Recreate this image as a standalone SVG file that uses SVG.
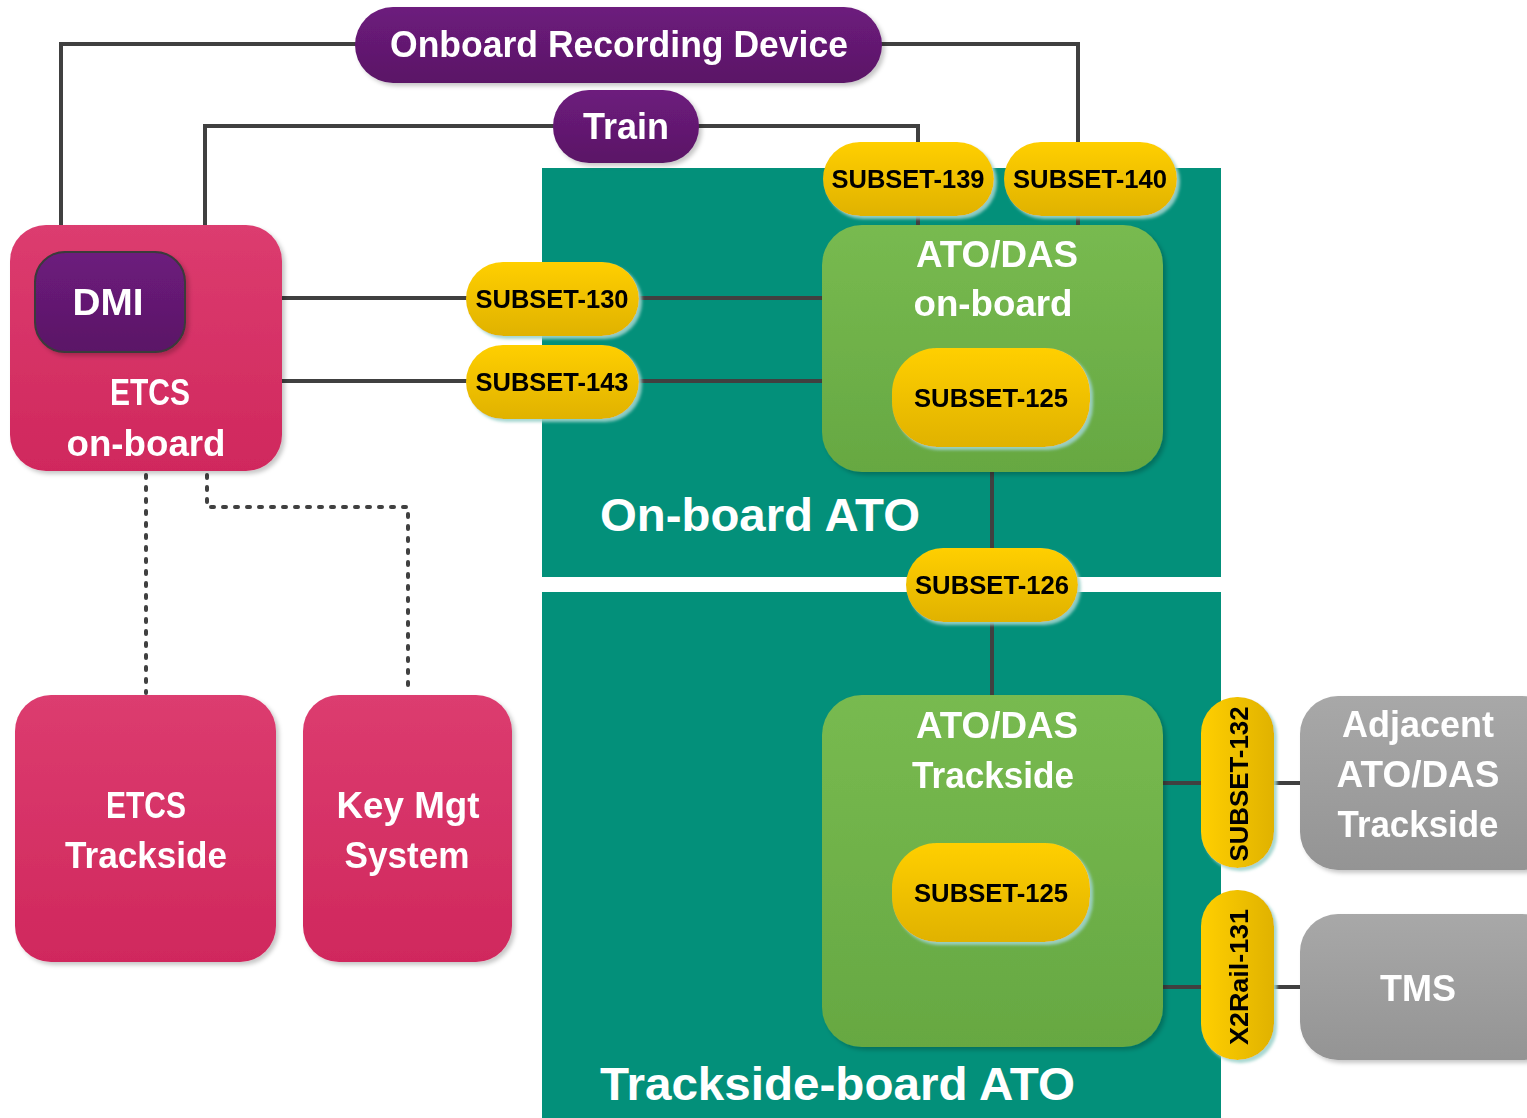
<svg xmlns="http://www.w3.org/2000/svg" width="1527" height="1118" viewBox="0 0 1527 1118">
<defs>
<linearGradient id="gPurple" x1="0" y1="0" x2="0" y2="1"><stop offset="0" stop-color="#6d1b7d"/><stop offset="1" stop-color="#5a1766"/></linearGradient>
<linearGradient id="gPink" x1="0" y1="0" x2="0" y2="1"><stop offset="0" stop-color="#dc3c6f"/><stop offset="1" stop-color="#d0285d"/></linearGradient>
<linearGradient id="gGreen" x1="0" y1="0" x2="0" y2="1"><stop offset="0" stop-color="#78ba50"/><stop offset="1" stop-color="#66a842"/></linearGradient>
<linearGradient id="gYellow" x1="0" y1="0" x2="0" y2="1"><stop offset="0" stop-color="#ffcf00"/><stop offset="1" stop-color="#e0b200"/></linearGradient>
<linearGradient id="gYellowH" x1="0" y1="0" x2="1" y2="0"><stop offset="0" stop-color="#ffcf00"/><stop offset="1" stop-color="#e0b200"/></linearGradient>
<linearGradient id="gGray" x1="0" y1="0" x2="0" y2="1"><stop offset="0" stop-color="#a8a8a8"/><stop offset="1" stop-color="#949494"/></linearGradient>
<filter id="sh" x="-10%" y="-10%" width="130%" height="130%"><feDropShadow dx="3" dy="3" stdDeviation="2" flood-color="#000" flood-opacity="0.22"/></filter>
<filter id="shY" x="-10%" y="-10%" width="130%" height="130%"><feDropShadow dx="3" dy="3" stdDeviation="1.5" flood-color="#9fd3cc" flood-opacity="0.9"/></filter>
</defs>
<style>
.ln{stroke:#404040;stroke-width:4;fill:none;stroke-linecap:round}
.dot{stroke:#404040;stroke-width:4;fill:none;stroke-dasharray:3 9;stroke-linecap:round}
.t{font-family:"Liberation Sans",Arial,sans-serif;font-weight:bold;text-anchor:middle}
.w{fill:#fff}
.k{fill:#000}
.big{font-size:37px}
.sm{font-size:25px}
.area{font-family:"Liberation Sans",Arial,sans-serif;font-weight:bold;fill:#fff;font-size:46px}
</style>
<rect width="1527" height="1118" fill="#fff"/>
<g id="onboard-ato-area">
<rect x="542" y="168" width="679" height="409" fill="#03907a"/>
<text class="area" x="600" y="531" textLength="320" lengthAdjust="spacingAndGlyphs">On-board ATO</text>
</g>
<g id="trackside-ato-area">
<rect x="542" y="592" width="679" height="526" fill="#03907a"/>
<text class="area" x="600" y="1100" textLength="475" lengthAdjust="spacingAndGlyphs">Trackside-board ATO</text>
</g>
<g id="connectors">
<path class="ln" d="M61 225 V44 H357"/>
<path class="ln" d="M880 44 H1078 V226"/>
<path class="ln" d="M205 225 V126 H555"/>
<path class="ln" d="M697 126 H918 V226"/>
<path class="ln" d="M282 298 H824"/>
<path class="ln" d="M282 381 H824"/>
<path class="ln" d="M992 470 V697"/>
<path class="ln" d="M1163 783 H1300"/>
<path class="ln" d="M1163 987 H1300"/>
<path class="dot" d="M146 475 V693"/>
<path class="dot" d="M207 475 V507 H408 V693"/>
</g>
<g id="onboard-recording-device" filter="url(#sh)">
<rect x="355" y="7" width="527" height="76" rx="38" fill="url(#gPurple)"/>
<text class="t w big" x="619" y="57" textLength="458" lengthAdjust="spacingAndGlyphs">Onboard Recording Device</text>
</g>
<g id="train" filter="url(#sh)">
<rect x="553" y="90" width="146" height="73" rx="36" fill="url(#gPurple)"/>
<text class="t w big" x="626" y="139" textLength="86" lengthAdjust="spacingAndGlyphs">Train</text>
</g>
<g id="etcs-onboard" filter="url(#sh)">
<rect x="10" y="225" width="272" height="246" rx="36" fill="url(#gPink)"/>
<text class="t w big" x="150" y="405" textLength="80" lengthAdjust="spacingAndGlyphs">ETCS</text>
<text class="t w big" x="146" y="456" textLength="159" lengthAdjust="spacingAndGlyphs">on-board</text>
</g>
<g id="dmi" filter="url(#sh)">
<rect x="35" y="252" width="150" height="100" rx="30" fill="url(#gPurple)" stroke="#3a3a3a" stroke-width="2"/>
<text class="t w big" x="108" y="315" textLength="71" lengthAdjust="spacingAndGlyphs">DMI</text>
</g>
<g id="ato-das-onboard" filter="url(#sh)">
<rect x="822" y="225" width="341" height="247" rx="40" fill="url(#gGreen)"/>
<text class="t w big" x="997" y="267" textLength="162" lengthAdjust="spacingAndGlyphs">ATO/DAS</text>
<text class="t w big" x="993" y="316" textLength="159" lengthAdjust="spacingAndGlyphs">on-board</text>
</g>
<g id="subset-125-onboard" filter="url(#shY)">
<rect x="892" y="348" width="198" height="99" rx="45" fill="url(#gYellow)"/>
<text class="t k sm" x="991" y="407" textLength="154" lengthAdjust="spacingAndGlyphs">SUBSET-125</text>
</g>
<g id="subset-139" filter="url(#shY)">
<rect x="823" y="142" width="171" height="74" rx="37" fill="url(#gYellow)"/>
<text class="t k sm" x="908" y="188" textLength="153" lengthAdjust="spacingAndGlyphs">SUBSET-139</text>
</g>
<g id="subset-140" filter="url(#shY)">
<rect x="1004" y="142" width="173" height="74" rx="37" fill="url(#gYellow)"/>
<text class="t k sm" x="1090" y="188" textLength="154" lengthAdjust="spacingAndGlyphs">SUBSET-140</text>
</g>
<g id="subset-130" filter="url(#shY)">
<rect x="466" y="262" width="173" height="74" rx="37" fill="url(#gYellow)"/>
<text class="t k sm" x="552" y="308" textLength="153" lengthAdjust="spacingAndGlyphs">SUBSET-130</text>
</g>
<g id="subset-143" filter="url(#shY)">
<rect x="466" y="345" width="173" height="74" rx="37" fill="url(#gYellow)"/>
<text class="t k sm" x="552" y="391" textLength="153" lengthAdjust="spacingAndGlyphs">SUBSET-143</text>
</g>
<g id="subset-126" filter="url(#shY)">
<rect x="906" y="548" width="172" height="74" rx="37" fill="url(#gYellow)"/>
<text class="t k sm" x="992" y="594" textLength="154" lengthAdjust="spacingAndGlyphs">SUBSET-126</text>
</g>
<g id="ato-das-trackside" filter="url(#sh)">
<rect x="822" y="695" width="341" height="352" rx="40" fill="url(#gGreen)"/>
<text class="t w big" x="997" y="738" textLength="162" lengthAdjust="spacingAndGlyphs">ATO/DAS</text>
<text class="t w big" x="993" y="788" textLength="162" lengthAdjust="spacingAndGlyphs">Trackside</text>
</g>
<g id="subset-125-trackside" filter="url(#shY)">
<rect x="892" y="843" width="198" height="99" rx="45" fill="url(#gYellow)"/>
<text class="t k sm" x="991" y="902" textLength="154" lengthAdjust="spacingAndGlyphs">SUBSET-125</text>
</g>
<g id="subset-132" filter="url(#shY)">
<rect x="1201" y="697" width="73" height="171" rx="36" fill="url(#gYellowH)"/>
<text class="t k sm" transform="translate(1248 784) rotate(-90)" x="0" y="0" textLength="155" lengthAdjust="spacingAndGlyphs">SUBSET-132</text>
</g>
<g id="x2rail-131" filter="url(#shY)">
<rect x="1201" y="890" width="73" height="170" rx="36" fill="url(#gYellowH)"/>
<text class="t k sm" transform="translate(1248 977) rotate(-90)" x="0" y="0" textLength="136" lengthAdjust="spacingAndGlyphs">X2Rail-131</text>
</g>
<g id="adjacent-ato-das-trackside" filter="url(#sh)">
<rect x="1300" y="696" width="260" height="174" rx="38" fill="url(#gGray)"/>
<text class="t w big" x="1418" y="737" textLength="152" lengthAdjust="spacingAndGlyphs">Adjacent</text>
<text class="t w big" x="1418" y="787" textLength="163" lengthAdjust="spacingAndGlyphs">ATO/DAS</text>
<text class="t w big" x="1418" y="837" textLength="161" lengthAdjust="spacingAndGlyphs">Trackside</text>
</g>
<g id="tms" filter="url(#sh)">
<rect x="1300" y="914" width="260" height="146" rx="38" fill="url(#gGray)"/>
<text class="t w big" x="1418" y="1001" textLength="76" lengthAdjust="spacingAndGlyphs">TMS</text>
</g>
<g id="etcs-trackside" filter="url(#sh)">
<rect x="15" y="695" width="261" height="267" rx="36" fill="url(#gPink)"/>
<text class="t w big" x="146" y="818" textLength="80" lengthAdjust="spacingAndGlyphs">ETCS</text>
<text class="t w big" x="146" y="868" textLength="162" lengthAdjust="spacingAndGlyphs">Trackside</text>
</g>
<g id="key-mgt-system" filter="url(#sh)">
<rect x="303" y="695" width="209" height="267" rx="36" fill="url(#gPink)"/>
<text class="t w big" x="408" y="818" textLength="143" lengthAdjust="spacingAndGlyphs">Key Mgt</text>
<text class="t w big" x="407" y="868" textLength="125" lengthAdjust="spacingAndGlyphs">System</text>
</g>
</svg>
